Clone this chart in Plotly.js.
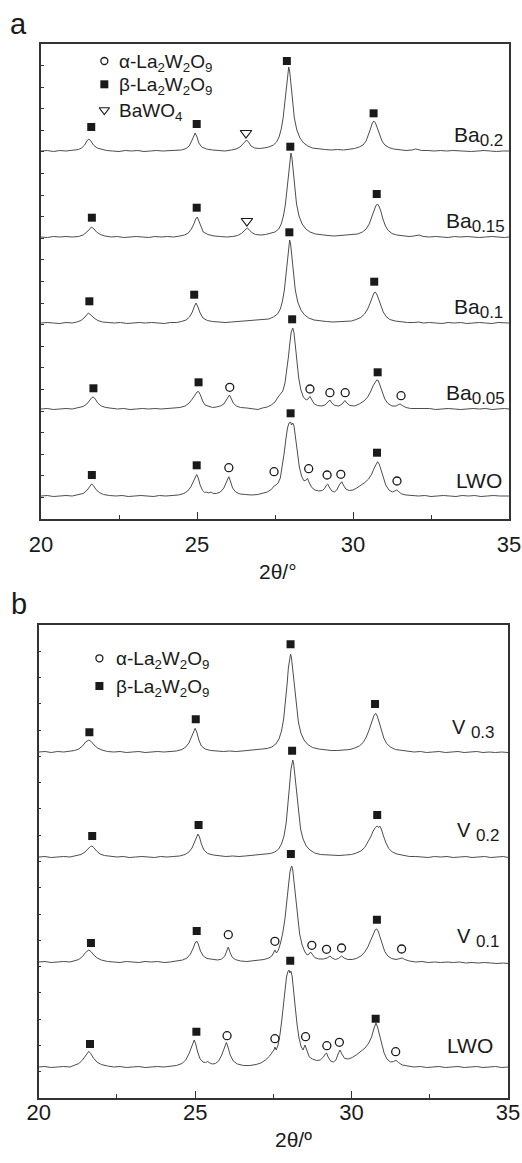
<!DOCTYPE html>
<html>
<head>
<meta charset="utf-8">
<script src="https://cdn.plot.ly/plotly-3.0.1.min.js"></script>
<style>html,body{margin:0;padding:0;background:#fff;}#chart{width:522px;height:1163px;}</style>
</head>
<body>
<div id="chart"></div>
<script>
// ---------- data (intensity in arbitrary units) ----------
const seriesA = ['Ba0.2', 'Ba0.15', 'Ba0.1', 'Ba0.05', 'LWO'];
const offsetA = [368, 282, 196, 110, 23];
const seriesB = ['V0.3', 'V0.2', 'V0.1', 'LWO'];
const offsetB = [346, 241, 136, 31];

const ba02 = [[20,0],[20.2,0.5],[20.4,-0.5],[20.6,0.5],[20.8,0],[21,0.5],[21.2,1.5],[21.3,3],[21.4,6],[21.47,10],[21.53,12],[21.6,10],[21.68,6],[21.8,3],[21.95,1.5],[22.1,0.5],[22.3,0],[22.5,-0.5],[22.7,0.5],[22.9,0],[23.1,0.5],[23.3,-0.5],[23.5,0],[23.7,0.5],[23.9,0],[24.1,0.5],[24.3,0.5],[24.5,1],[24.65,2.5],[24.75,5],[24.83,10],[24.89,15],[24.94,18],[25,14],[25.06,8],[25.15,4],[25.3,2],[25.5,1],[25.7,0.5],[25.9,0],[26.1,1],[26.25,2],[26.38,4],[26.48,7],[26.55,10],[26.59,11],[26.65,9],[26.73,5],[26.85,3],[27,2.5],[27.15,3],[27.3,4],[27.45,6],[27.55,9],[27.63,14],[27.7,22],[27.76,33],[27.82,50],[27.87,68],[27.91,80],[27.94,84],[27.97,80],[28.01,68],[28.06,50],[28.12,33],[28.2,21],[28.3,13],[28.42,8],[28.55,5],[28.7,3],[28.9,2],[29.1,1.5],[29.3,1],[29.5,1.5],[29.7,1],[29.9,1.5],[30.05,2.5],[30.2,4],[30.32,6],[30.42,10],[30.5,16],[30.57,23],[30.62,28],[30.67,30],[30.72,28],[30.78,23],[30.85,16],[30.93,10],[31.02,6],[31.15,3.5],[31.3,2],[31.5,1],[31.7,0.5],[31.9,1],[32,2],[32.08,1.5],[32.2,0.5],[32.4,0.5],[32.6,0],[32.8,0.5],[33,0],[33.2,0.5],[33.4,0],[33.6,0],[33.8,-0.5],[34,0],[34.2,0.5],[34.4,0],[34.6,-0.5],[34.8,0],[35,0]];

const ba015 = [[20,0],[20.2,-0.5],[20.4,0.5],[20.6,0],[20.8,0.5],[21,0],[21.2,0.5],[21.35,2],[21.47,5],[21.56,8.5],[21.62,10],[21.7,8],[21.78,5],[21.9,2.5],[22.05,1],[22.25,0],[22.45,0.5],[22.65,-0.5],[22.85,0],[23.05,0.5],[23.25,0],[23.45,-0.5],[23.65,0.5],[23.85,0],[24.05,0.5],[24.25,0],[24.45,1],[24.6,2],[24.72,4],[24.82,8],[24.9,13],[24.96,18],[25.01,20],[25.06,16],[25.12,10],[25.2,5],[25.35,2.5],[25.55,1],[25.75,0.5],[25.95,0],[26.15,0.5],[26.3,1.5],[26.42,3.5],[26.52,6.5],[26.58,8.5],[26.61,9],[26.67,7.5],[26.75,4.5],[26.87,2.5],[27.05,2],[27.2,2.5],[27.35,3.5],[27.5,5],[27.62,8],[27.7,13],[27.77,21],[27.83,32],[27.89,49],[27.94,67],[27.98,79],[28.01,84],[28.04,80],[28.08,68],[28.13,50],[28.19,33],[28.27,21],[28.37,13],[28.49,8],[28.62,5],[28.8,3],[29,2],[29.2,1.5],[29.4,1],[29.6,1.5],[29.8,1.5],[30,2],[30.15,3],[30.3,5],[30.42,8],[30.52,13],[30.6,19],[30.67,26],[30.73,31],[30.78,33],[30.83,31],[30.89,26],[30.96,18],[31.04,11],[31.13,6.5],[31.25,3.5],[31.4,2],[31.6,1],[31.8,0.5],[31.95,1],[32.05,2],[32.12,2],[32.25,0.5],[32.45,0],[32.65,0.5],[32.85,0],[33.05,-0.5],[33.25,0.5],[33.45,0],[33.65,0.5],[33.85,0],[34.05,-0.5],[34.25,0],[34.45,0.5],[34.65,0],[34.85,-0.5],[35,0]];

const ba01 = [[20,0],[20.2,0.5],[20.4,0],[20.6,-0.5],[20.8,0.5],[21,0],[21.15,1],[21.28,2.5],[21.38,5],[21.46,8.5],[21.52,10],[21.6,8],[21.7,5],[21.82,2.5],[21.97,1],[22.15,0.5],[22.35,0],[22.55,0.5],[22.75,-0.5],[22.95,0],[23.15,0.5],[23.35,0],[23.55,0.5],[23.75,0],[23.95,-0.5],[24.15,0.5],[24.35,0.5],[24.5,1.5],[24.65,3],[24.76,6],[24.85,11],[24.92,17],[24.97,20],[25.03,16],[25.1,10],[25.19,5],[25.33,2.5],[25.5,1.5],[25.7,1],[25.9,0.5],[26.1,1],[26.3,1.5],[26.5,1.5],[26.7,2],[26.9,2.5],[27.1,3],[27.3,4],[27.45,6],[27.58,9],[27.67,14],[27.74,22],[27.8,33],[27.86,50],[27.91,67],[27.94,78],[27.97,83],[28,79],[28.04,67],[28.09,50],[28.15,33],[28.23,21],[28.33,13],[28.45,8],[28.58,5],[28.75,3],[28.95,2],[29.15,1.5],[29.35,1],[29.55,1.5],[29.75,1.5],[29.95,2],[30.1,3.5],[30.25,5.5],[30.37,9],[30.47,14],[30.55,20],[30.62,26],[30.67,30],[30.71,31],[30.76,29],[30.82,24],[30.89,17],[30.97,11],[31.06,6.5],[31.18,3.5],[31.35,2],[31.55,1],[31.75,0.5],[31.95,0.5],[32.1,1],[32.25,0],[32.45,0.5],[32.65,0],[32.85,-0.5],[33.05,0.5],[33.25,0],[33.45,0.5],[33.65,-0.5],[33.85,0],[34.05,0.5],[34.25,0],[34.45,-0.5],[34.65,0.5],[34.85,0],[35,0]];

const ba005 = [[20,0],[20.2,0.5],[20.4,-0.5],[20.6,0],[20.8,0.5],[21,0],[21.2,1],[21.35,2.5],[21.47,5],[21.57,9],[21.63,11.5],[21.68,12],[21.74,10],[21.82,6],[21.93,3],[22.08,1.5],[22.25,0.5],[22.45,0],[22.65,0.5],[22.85,-0.5],[23.05,0],[23.25,0.5],[23.45,0],[23.65,0.5],[23.85,0],[24.05,0.5],[24.25,1],[24.45,1.5],[24.62,3],[24.75,6],[24.85,10],[24.93,14],[25,17],[25.05,17.5],[25.11,14],[25.18,8],[25.26,4],[25.35,3],[25.42,2],[25.5,1.5],[25.62,2],[25.75,3],[25.86,5],[25.95,9],[26,12.5],[26.04,14],[26.09,11],[26.16,6],[26.26,3],[26.4,1.5],[26.6,1],[26.8,0.5],[26.95,-0.5],[27.1,1],[27.25,2],[27.38,4],[27.5,7],[27.6,12],[27.68,15],[27.75,18],[27.82,26],[27.88,38],[27.93,52],[27.98,67],[28.02,77],[28.07,81],[28.11,76],[28.15,64],[28.2,47],[28.26,31],[28.33,19],[28.41,12],[28.5,9],[28.56,10],[28.62,12.5],[28.68,9],[28.76,5],[28.86,3.5],[28.98,3],[29.1,4],[29.2,7],[29.26,9],[29.32,6],[29.42,3.5],[29.55,3],[29.65,5],[29.74,8.5],[29.8,6],[29.9,3.5],[30.05,3],[30.2,5],[30.35,8],[30.47,12],[30.56,17],[30.64,23],[30.71,27],[30.76,29],[30.81,28.5],[30.87,24],[30.94,17],[31.02,10],[31.12,5.5],[31.25,3],[31.38,3],[31.46,4.5],[31.51,5],[31.58,3.5],[31.7,1.5],[31.85,0.5],[32.05,0.5],[32.25,0],[32.45,0.5],[32.65,-0.5],[32.85,0],[33.05,0.5],[33.25,0],[33.45,-0.5],[33.65,0],[33.85,0.5],[34.05,0],[34.25,0.5],[34.45,-0.5],[34.65,0],[34.85,0.5],[35,0]];

const lwoA = [[20,0],[20.2,0.5],[20.4,-0.5],[20.6,0],[20.8,0.5],[21,0],[21.2,1],[21.35,2.5],[21.47,5.5],[21.56,10],[21.62,12],[21.68,10.5],[21.76,6.5],[21.87,3.5],[22,1.5],[22.2,0.5],[22.4,0],[22.6,0.5],[22.8,-0.5],[23,0],[23.2,0.5],[23.4,0],[23.6,-0.5],[23.8,0.5],[24,0],[24.2,0.5],[24.4,1],[24.58,2.5],[24.7,5],[24.8,9],[24.88,15],[24.95,20],[24.99,21.5],[25.04,18],[25.1,11],[25.18,5.5],[25.25,3.5],[25.3,4],[25.36,3],[25.45,4],[25.52,2.5],[25.62,2.5],[25.75,4],[25.86,8],[25.94,14],[25.99,18.5],[26.02,19.3],[26.07,15],[26.14,8],[26.24,4],[26.38,2],[26.55,1.5],[26.75,1],[26.95,1.5],[27.1,2.5],[27.25,4],[27.38,6.5],[27.47,10],[27.53,11],[27.6,13],[27.67,18],[27.73,28],[27.79,42],[27.85,57],[27.9,68],[27.95,73],[28,74],[28.03,71],[28.07,73],[28.11,70],[28.16,58],[28.22,42],[28.28,29],[28.35,20],[28.42,15.5],[28.48,15.5],[28.54,17.7],[28.6,13],[28.68,8.5],[28.78,6],[28.9,5],[29.02,5.5],[29.1,8],[29.15,11],[29.19,12],[29.24,9],[29.32,5],[29.4,4],[29.48,6],[29.56,11],[29.61,14],[29.64,14.3],[29.69,11],[29.77,7],[29.88,5.5],[30,6],[30.12,8],[30.25,10.5],[30.38,13.5],[30.5,17],[30.6,22],[30.68,28],[30.74,32.5],[30.79,34.3],[30.84,32],[30.9,26],[30.97,18],[31.05,11],[31.15,6],[31.26,4],[31.34,5],[31.4,6],[31.46,4.5],[31.56,2],[31.7,1],[31.9,0.5],[32.1,0],[32.3,0.5],[32.5,-0.5],[32.7,0],[32.9,0.5],[33.1,0],[33.3,-0.5],[33.5,0.5],[33.7,0],[33.9,0.5],[34.1,-0.5],[34.3,0],[34.5,0.5],[34.7,0],[34.9,-0.5],[35,0]];

const v03 = [[20,0],[20.2,0.5],[20.4,-0.5],[20.6,0.5],[20.8,0],[21,0.5],[21.15,1.5],[21.28,3],[21.4,6],[21.5,10],[21.6,12],[21.68,10.5],[21.77,7],[21.88,4],[22.02,2],[22.2,0.5],[22.4,0],[22.6,0.5],[22.8,-0.5],[23,0],[23.2,0.5],[23.4,-0.5],[23.6,0],[23.8,0.5],[24,0],[24.2,0.5],[24.4,1],[24.58,2.5],[24.7,5],[24.8,9],[24.88,15],[24.95,21],[25,23.7],[25.05,20],[25.12,12],[25.2,6],[25.32,3],[25.5,1.5],[25.7,1],[25.9,0.5],[26.1,1],[26.3,0.5],[26.5,1],[26.7,1.5],[26.9,2],[27.1,2.5],[27.3,3.5],[27.45,5],[27.58,8],[27.68,13],[27.76,21],[27.83,33],[27.89,50],[27.94,68],[27.98,84],[28.02,95],[28.05,98],[28.08,94],[28.12,82],[28.17,64],[28.23,45],[28.3,30],[28.38,19],[28.48,12],[28.6,7.5],[28.75,4.5],[28.95,3],[29.15,2],[29.35,1.5],[29.55,1.5],[29.75,2],[29.95,2.5],[30.1,4],[30.25,6],[30.37,9.5],[30.47,15],[30.56,22],[30.64,30],[30.71,36],[30.77,38.7],[30.82,36],[30.88,30],[30.95,22],[31.03,14],[31.12,8.5],[31.24,5],[31.4,2.5],[31.6,1.5],[31.8,0.5],[32,0],[32.2,0.5],[32.4,-0.5],[32.6,0],[32.8,0.5],[33,-0.5],[33.2,0],[33.4,0.5],[33.6,-0.5],[33.8,0],[34,0.5],[34.2,-0.5],[34.4,0],[34.6,-0.5],[34.8,0],[35,-0.5]];

const v02 = [[20,0],[20.2,0.5],[20.4,-0.5],[20.6,0],[20.8,0.5],[21,0],[21.2,1],[21.35,2.5],[21.48,5],[21.58,8.5],[21.65,10.5],[21.7,11],[21.76,9.5],[21.85,6],[21.96,3],[22.1,1.5],[22.3,0.5],[22.5,0],[22.7,0.5],[22.9,-0.5],[23.1,0],[23.3,0.5],[23.5,0],[23.7,-0.5],[23.9,0.5],[24.1,0],[24.3,0.5],[24.5,1],[24.68,2.5],[24.8,5],[24.9,9],[24.98,15],[25.05,21],[25.09,23],[25.14,20],[25.2,13],[25.28,7],[25.4,3.5],[25.58,2],[25.78,1],[25.98,0.5],[26.2,1],[26.4,0.5],[26.6,1],[26.8,1.5],[27,2],[27.2,2.5],[27.4,3.5],[27.55,5],[27.67,8],[27.76,13],[27.84,21],[27.91,34],[27.97,52],[28.02,72],[28.06,87],[28.09,95],[28.12,97],[28.15,93],[28.19,81],[28.24,62],[28.3,43],[28.37,28],[28.45,18],[28.55,11],[28.67,7],[28.82,4],[29,2.5],[29.2,2],[29.4,1.5],[29.6,1.5],[29.8,2],[30,2.5],[30.15,4],[30.3,6],[30.42,9.5],[30.52,14.5],[30.61,20],[30.69,26],[30.76,29.5],[30.82,31],[30.86,29.5],[30.9,31],[30.95,28],[31.02,21],[31.1,14],[31.19,8.5],[31.3,5],[31.45,3],[31.65,1.5],[31.85,0.5],[32.05,0.5],[32.25,0],[32.45,-0.5],[32.65,0.5],[32.85,0],[33.05,0.5],[33.25,-0.5],[33.45,0],[33.65,0.5],[33.85,-0.5],[34.05,0],[34.25,0.5],[34.45,-0.5],[34.65,0],[34.85,0.5],[35,-0.5]];

const v01 = [[20,0],[20.2,0.5],[20.4,-0.5],[20.6,0],[20.8,0.5],[21,0],[21.15,1],[21.28,2.5],[21.4,5.5],[21.5,9.5],[21.6,12],[21.67,10.5],[21.76,7],[21.87,4],[22,2],[22.2,0.5],[22.4,0],[22.6,-0.5],[22.8,0.5],[23,0],[23.2,-0.5],[23.4,0.5],[23.6,0],[23.8,0.5],[24,-0.5],[24.2,0],[24.4,1],[24.6,2],[24.74,4],[24.85,8],[24.94,14],[25,19],[25.05,21],[25.1,18],[25.17,11],[25.26,6],[25.38,3.5],[25.5,3],[25.6,2.5],[25.72,2],[25.85,3],[25.95,6],[26.01,11],[26.06,15],[26.11,10],[26.18,5],[26.28,2.5],[26.45,1],[26.65,0.5],[26.85,1],[27.05,1.5],[27.2,2.5],[27.35,4],[27.45,6],[27.52,10],[27.55,12],[27.6,9],[27.66,12],[27.73,19],[27.8,29],[27.87,43],[27.93,60],[27.98,77],[28.03,90],[28.07,95],[28.09,96],[28.12,92],[28.16,80],[28.21,62],[28.27,43],[28.34,28],[28.42,17],[28.51,10],[28.58,7],[28.64,8],[28.69,10],[28.74,7.5],[28.82,4.5],[28.95,3],[29.1,3],[29.22,4],[29.31,6],[29.38,4],[29.48,2.5],[29.58,3.5],[29.68,6],[29.76,4],[29.88,2.5],[30.02,2.5],[30.15,3.5],[30.3,6],[30.42,10],[30.52,15],[30.61,22],[30.69,29],[30.76,32.5],[30.8,33],[30.85,31],[30.91,25],[30.98,17],[31.06,10.5],[31.16,6],[31.28,3.5],[31.42,2.5],[31.55,3],[31.62,4],[31.7,2.5],[31.85,1],[32.05,0],[32.25,0.5],[32.45,-0.5],[32.65,0],[32.85,-0.5],[33.05,0],[33.25,-0.5],[33.45,0],[33.65,-1],[33.85,-0.5],[34.05,-1],[34.25,-0.5],[34.45,-1],[34.65,-1.5],[34.85,-1],[35,-1.5]];

const lwoB = [[20,0],[20.2,0.5],[20.4,-0.5],[20.6,0],[20.8,0.5],[21,0],[21.15,1.5],[21.28,3.5],[21.4,7],[21.5,12],[21.56,14.5],[21.6,15.7],[21.66,13.5],[21.75,9],[21.86,5],[22,2.5],[22.2,1],[22.4,0],[22.6,0.5],[22.8,-0.5],[23,0],[23.2,0.5],[23.4,-0.5],[23.6,0],[23.8,0.5],[24,0],[24.2,1],[24.4,1.5],[24.58,3.5],[24.7,7],[24.8,13],[24.88,20],[24.94,25.5],[24.97,27],[25.02,23],[25.08,15],[25.16,8],[25.25,5],[25.33,4.5],[25.4,5.5],[25.47,4],[25.55,3],[25.65,3.5],[25.75,6],[25.85,12],[25.93,20],[25.97,23.5],[26,24.6],[26.05,20],[26.12,12],[26.22,6],[26.35,3],[26.55,1.5],[26.75,1.5],[26.95,2.5],[27.1,4],[27.25,7],[27.38,11],[27.47,15],[27.52,17],[27.55,20],[27.59,17],[27.65,22],[27.71,32],[27.77,47],[27.83,65],[27.88,80],[27.92,90],[27.96,95],[28,97],[28.03,94],[28.06,96],[28.1,91],[28.15,78],[28.2,60],[28.26,42],[28.32,29],[28.39,20],[28.45,17],[28.51,22],[28.57,16],[28.65,10],[28.75,8],[28.88,6.5],[29,7],[29.1,10],[29.16,13],[29.2,14],[29.25,10],[29.33,6],[29.42,5],[29.5,7],[29.57,13],[29.63,17],[29.69,13],[29.78,8.5],[29.9,8],[30.02,9.5],[30.15,12],[30.3,15.5],[30.43,19],[30.55,24],[30.64,30],[30.71,38],[30.75,42],[30.78,44],[30.83,40],[30.89,32],[30.96,22],[31.04,14],[31.13,8],[31.24,5],[31.34,5.5],[31.42,6.6],[31.5,4.5],[31.62,2],[31.8,1],[32,0],[32.2,0.5],[32.4,-0.5],[32.6,0],[32.8,0.5],[33,-0.5],[33.2,0],[33.4,0.5],[33.6,-0.5],[33.8,0],[34,0.5],[34.2,-0.5],[34.4,0],[34.6,0.5],[34.8,-0.5],[35,0]];

// phase marks (2θ, axis height)
const aBetaX  = [21.61,24.99,27.88,30.66, 21.63,24.99,27.99,30.76, 21.55,24.91,27.96,30.68, 21.68,25.05,28.05,30.79, 21.63,24.99,28.0,30.77];
const aBetaY  = [392,395,458,405.7, 301.3,311.3,372.3,325, 217.7,224.3,286.7,237.3, 130.7,136.7,199.7,146.7, 44,53.7,105.7,66.3];
const aAlphaX = [26.05,28.62,29.26,29.75,31.54, 26.02,27.47,28.58,29.17,29.61,31.41];
const aAlphaY = [131.7,130,126.3,126.3,123.3, 51.3,47.3,50.3,44,44.7,38];
const aBaWO4X = [26.57,26.60];
const aBaWO4Y = [386,298];
const bBetaX  = [21.62,25.02,28.05,30.75, 21.71,25.11,28.1,30.82, 21.67,25.05,28.06,30.81, 21.64,25.04,28.04,30.77];
const bBetaY  = [365.7,378.7,453.7,394, 262,273,347.3,283, 155,167,244,178.3, 54,66.3,137.3,79.3];
const bAlphaX = [26.06,27.55,28.73,29.2,29.68,31.6, 26.02,27.55,28.53,29.21,29.61,31.41];
const bAlphaY = [163.3,156.7,152.7,148.7,150,149, 62.3,59.3,61.3,52.3,55.7,46.3];

const subA = ['0.2', '0.15', '0.1', '0.05'];
const subB = ['0.3', '0.2', '0.1'];
const legendNames = ['α-La<sub>2</sub>W<sub>2</sub>O<sub>9</sub>','β-La<sub>2</sub>W<sub>2</sub>O<sub>9</sub>','BaWO<sub>4</sub>'];

// ---------- build ----------
const FONT = 'Liberation Sans, Arial, sans-serif';
const LINE = '#4d4d4d';
const INK = '#1a1a1a';
const patternsA = [ba02, ba015, ba01, ba005, lwoA];
const patternsB = [v03, v02, v01, lwoB];

const traces = [];
patternsA.forEach((p, i) => traces.push({
  type: 'scatter', mode: 'lines', name: seriesA[i], xaxis: 'x', yaxis: 'y',
  x: p.map(d => d[0]), y: p.map(d => d[1] + offsetA[i]),
  line: {color: LINE, width: 1}, showlegend: false, hoverinfo: 'skip'
}));
patternsB.forEach((p, i) => traces.push({
  type: 'scatter', mode: 'lines', name: seriesB[i], xaxis: 'x2', yaxis: 'y2',
  x: p.map(d => d[0]), y: p.map(d => d[1] + offsetB[i]),
  line: {color: LINE, width: 1}, showlegend: false, hoverinfo: 'skip'
}));

const sq = {symbol: 'square', size: 8, color: INK, line: {width: 0}};
const circ = {symbol: 'circle-open', size: 8, color: INK, line: {width: 1.3, color: INK}};
const tri = {symbol: 'triangle-down-open', size: 10, color: INK, line: {width: 1.2, color: INK}};

traces.push({type:'scatter', mode:'markers', name:'β-La2W2O9', xaxis:'x', yaxis:'y', x:aBetaX, y:aBetaY, marker:sq, showlegend:false, hoverinfo:'skip'});
traces.push({type:'scatter', mode:'markers', name:'α-La2W2O9', xaxis:'x', yaxis:'y', x:aAlphaX, y:aAlphaY, marker:circ, showlegend:false, hoverinfo:'skip'});
traces.push({type:'scatter', mode:'markers', name:'BaWO4', xaxis:'x', yaxis:'y', x:aBaWO4X, y:aBaWO4Y, marker:tri, showlegend:false, hoverinfo:'skip'});
traces.push({type:'scatter', mode:'markers', name:'β-La2W2O9', xaxis:'x2', yaxis:'y2', x:bBetaX, y:bBetaY, marker:sq, showlegend:false, hoverinfo:'skip'});
traces.push({type:'scatter', mode:'markers', name:'α-La2W2O9', xaxis:'x2', yaxis:'y2', x:bAlphaX, y:bAlphaY, marker:circ, showlegend:false, hoverinfo:'skip'});

// in-plot keys
const keyAX = 22.03, keyAY = [458, 434.7, 409];
const keyBX = 21.94, keyBY = [439.7, 412];
traces.push({type:'scatter', mode:'markers', xaxis:'x', yaxis:'y', x:[keyAX], y:[keyAY[0]], marker:Object.assign({}, circ, {size:7}), showlegend:false, hoverinfo:'skip'});
traces.push({type:'scatter', mode:'markers', xaxis:'x', yaxis:'y', x:[keyAX], y:[keyAY[1]], marker:sq, showlegend:false, hoverinfo:'skip'});
traces.push({type:'scatter', mode:'markers', xaxis:'x', yaxis:'y', x:[keyAX], y:[keyAY[2]], marker:Object.assign({}, tri, {size:9}), showlegend:false, hoverinfo:'skip'});
traces.push({type:'scatter', mode:'markers', xaxis:'x2', yaxis:'y2', x:[keyBX], y:[keyBY[0]], marker:Object.assign({}, circ, {size:7}), showlegend:false, hoverinfo:'skip'});
traces.push({type:'scatter', mode:'markers', xaxis:'x2', yaxis:'y2', x:[keyBX], y:[keyBY[1]], marker:sq, showlegend:false, hoverinfo:'skip'});

const bigSub = s => '<sub><span style="font-size:17px">' + s + '</span></sub>';
const labelsA = subA.map(s => 'Ba' + bigSub(s)).concat(['LWO']);
const labelsB = subB.map(s => 'V ' + bigSub(s)).concat(['LWO']);

const ann = [];
const labAX = [34.87, 34.94, 34.87, 34.94, 34.84];
const labAY = [382, 296, 210, 124, 38];
labelsA.forEach((t, i) => ann.push({xref:'x', yref:'y', x:labAX[i], y:labAY[i], xanchor:'right', yanchor:'middle', showarrow:false, text:t, font:{family:FONT, size:21, color:INK}}));
const labBX = [34.64, 34.8, 34.8, 34.58];
const labBY = [369, 266, 160, 53];
labelsB.forEach((t, i) => ann.push({xref:'x2', yref:'y2', x:labBX[i], y:labBY[i], xanchor:'right', yanchor:'middle', showarrow:false, text:t, font:{family:FONT, size: i === 3 ? 21 : 20, color:INK}}));
legendNames.forEach((t, i) => ann.push({xref:'x', yref:'y', x:22.42, y:keyAY[i] - 2, xanchor:'left', yanchor:'middle', showarrow:false, text:t, font:{family:FONT, size:19, color:INK}}));
legendNames.slice(0, 2).forEach((t, i) => ann.push({xref:'x2', yref:'y2', x:22.42, y:keyBY[i] - 2, xanchor:'left', yanchor:'middle', showarrow:false, text:t, font:{family:FONT, size:19, color:INK}}));
ann.push({xref:'paper', yref:'paper', x:8/522, y:1 - 24/1163, xanchor:'left', yanchor:'middle', showarrow:false, text:'a', font:{family:FONT, size:29, color:INK}});
ann.push({xref:'paper', yref:'paper', x:9/522, y:1 - 604/1163, xanchor:'left', yanchor:'middle', showarrow:false, text:'b', font:{family:FONT, size:29, color:INK}});
ann.push({xref:'paper', yref:'paper', x:278/522, y:1 - 571/1163, xanchor:'center', yanchor:'middle', showarrow:false, text:'2θ/°', font:{family:FONT, size:21, color:INK}});
ann.push({xref:'paper', yref:'paper', x:293/522, y:1 - 1139/1163, xanchor:'center', yanchor:'middle', showarrow:false, text:'2θ/º', font:{family:FONT, size:21, color:INK}});

function xax(domain, anchor, standoff) {
  return {domain: domain, anchor: anchor, range: [20, 35], tick0: 20, dtick: 5,
    ticks: 'inside', ticklen: 7, tickwidth: 1.2, tickcolor: '#333',
    minor: {dtick: 2.5, ticks: 'inside', ticklen: 4, tickwidth: 1.2, tickcolor: '#333'},
    showline: true, mirror: true, linecolor: '#333', linewidth: 1.5,
    showgrid: false, zeroline: false, ticklabelstandoff: standoff,
    tickfont: {family: FONT, size: 22, color: INK}};
}
function yax(domain, anchor, top, n) {
  return {domain: domain, anchor: anchor, range: [0, top], tick0: 0, dtick: top / n,
    ticks: 'inside', ticklen: 3, tickwidth: 1, tickcolor: '#333', showticklabels: false,
    showline: true, mirror: true, linecolor: '#333', linewidth: 1.5,
    showgrid: false, zeroline: false};
}

const layout = {
  width: 522, height: 1163, margin: {l: 0, r: 0, t: 0, b: 0},
  paper_bgcolor: '#fff', plot_bgcolor: '#fff', showlegend: false,
  xaxis: xax([41/522, 509/522], 'y', 5),
  yaxis: yax([(1163-519)/1163, (1163-44)/1163], 'x', 475, 22),
  xaxis2: xax([38.7/522, 508/522], 'y2', -6),
  yaxis2: yax([(1163-1098)/1163, (1163-625)/1163], 'x2', 473, 18),
  annotations: ann
};

Plotly.newPlot('chart', traces, layout, {displayModeBar: false});
</script>
</body>
</html>
